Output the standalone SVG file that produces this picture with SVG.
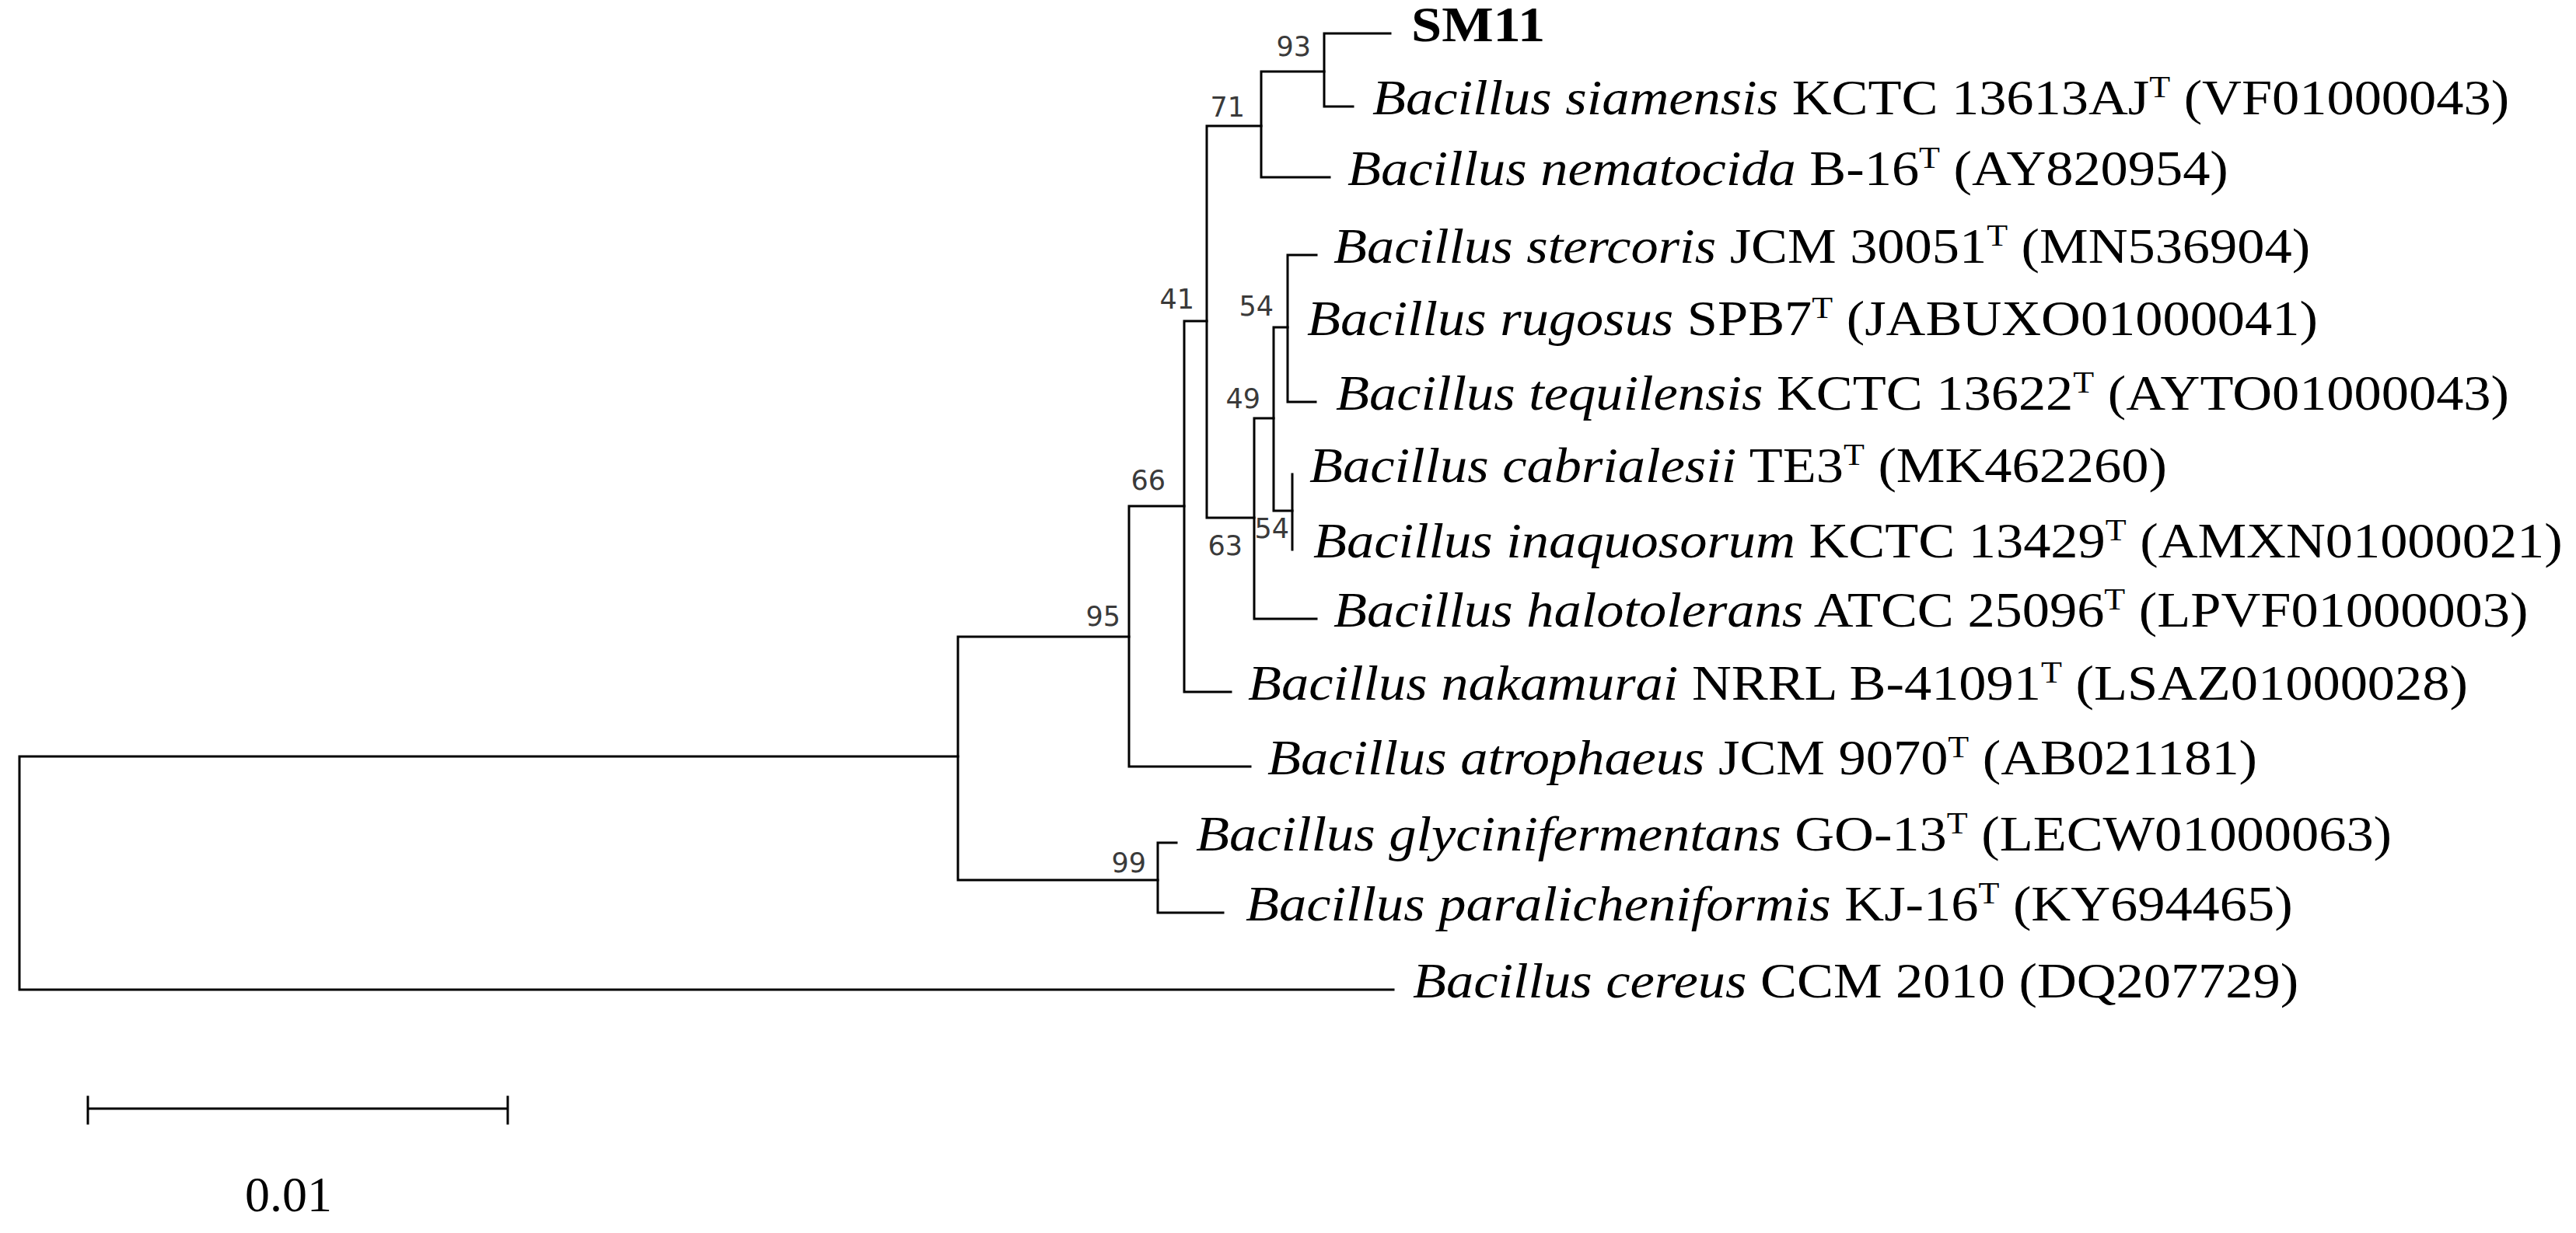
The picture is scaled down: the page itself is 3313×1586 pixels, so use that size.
<svg xmlns="http://www.w3.org/2000/svg" width="3313" height="1586" viewBox="0 0 3313 1586">
<style>
.tx{font-family:"Liberation Serif","Times New Roman",serif;font-size:64px;fill:#000}
.it{font-style:italic}
.bd{font-weight:bold}
.sup{font-size:40px}
.bs{font-family:"DejaVu Sans",Verdana,sans-serif;font-size:35px;fill:#3a3a3a;text-anchor:end}
.br{stroke:#000;stroke-width:3;fill:none;stroke-linecap:square}
</style>
<rect width="3313" height="1586" fill="#fff"/>
<g id="connectors" class="br">
<path d="M25,973V1273M25,973H1232M25,1273H1792"/>
<path d="M1232,819V1132M1232,819H1452M1232,1132H1489"/>
<path d="M1489,1084V1174M1489,1084H1513M1489,1174H1573"/>
<path d="M1452,651V986M1452,986H1608M1452,651H1523"/>
<path d="M1523,413V890M1523,890H1583M1523,413H1552"/>
<path d="M1552,162V666M1552,162H1622M1552,666H1613"/>
<path d="M1622,92V228M1622,92H1703M1622,228H1710"/>
<path d="M1703,43V137M1703,43H1788M1703,137H1740"/>
<path d="M1613,538V796M1613,796H1693M1613,538H1638"/>
<path d="M1638,421V657M1638,421H1656M1638,657H1662"/>
<path d="M1656,328V517M1656,328H1693M1656,517H1692"/>
<path d="M1662,610V707"/>
</g>
<g id="bootstrap">
<text id="bs93" class="bs" x="1686" y="72">93</text>
<text id="bs71" class="bs" x="1601" y="150">71</text>
<text id="bs41" class="bs" x="1536" y="397">41</text>
<text id="bs66" class="bs" x="1499" y="630">66</text>
<text id="bs95" class="bs" x="1441" y="805">95</text>
<text id="bs99" class="bs" x="1474" y="1122">99</text>
<text id="bs54a" class="bs" x="1638" y="406">54</text>
<text id="bs49" class="bs" x="1621" y="525">49</text>
<text id="bs63" class="bs" x="1598" y="714">63</text>
<text id="bs54b" class="bs" x="1658" y="692">54</text>
</g>
<g id="n-SM11" transform="translate(1815,53) scale(1.1,1)"><text class="tx bd">SM11</text></g>
<g id="n-siamensis" transform="translate(1765,147) scale(1.1,1)"><text class="tx"><tspan class="it">Bacillus siamensis</tspan> KCTC 13613AJ<tspan class="sup" dy="-22">T</tspan><tspan dy="22"> (VF01000043)</tspan></text></g>
<g id="n-nematocida" transform="translate(1733,238) scale(1.1,1)"><text class="tx"><tspan class="it">Bacillus nematocida</tspan> B-16<tspan class="sup" dy="-22">T</tspan><tspan dy="22"> (AY820954)</tspan></text></g>
<g id="n-stercoris" transform="translate(1715,338) scale(1.1,1)"><text class="tx"><tspan class="it">Bacillus stercoris</tspan> JCM 30051<tspan class="sup" dy="-22">T</tspan><tspan dy="22"> (MN536904)</tspan></text></g>
<g id="n-rugosus" transform="translate(1681,431) scale(1.1,1)"><text class="tx"><tspan class="it">Bacillus rugosus</tspan> SPB7<tspan class="sup" dy="-22">T</tspan><tspan dy="22"> (JABUXO01000041)</tspan></text></g>
<g id="n-tequilensis" transform="translate(1718,527) scale(1.1,1)"><text class="tx"><tspan class="it">Bacillus tequilensis</tspan> KCTC 13622<tspan class="sup" dy="-22">T</tspan><tspan dy="22"> (AYTO01000043)</tspan></text></g>
<g id="n-cabrialesii" transform="translate(1684,620) scale(1.1,1)"><text class="tx"><tspan class="it">Bacillus cabrialesii</tspan> TE3<tspan class="sup" dy="-22">T</tspan><tspan dy="22"> (MK462260)</tspan></text></g>
<g id="n-inaquosorum" transform="translate(1689,717) scale(1.1,1)"><text class="tx"><tspan class="it">Bacillus inaquosorum</tspan> KCTC 13429<tspan class="sup" dy="-22">T</tspan><tspan dy="22"> (AMXN01000021)</tspan></text></g>
<g id="n-halotolerans" transform="translate(1715,806) scale(1.1,1)"><text class="tx"><tspan class="it">Bacillus halotolerans</tspan> ATCC 25096<tspan class="sup" dy="-22">T</tspan><tspan dy="22"> (LPVF01000003)</tspan></text></g>
<g id="n-nakamurai" transform="translate(1605,900) scale(1.1,1)"><text class="tx"><tspan class="it">Bacillus nakamurai</tspan> NRRL B-41091<tspan class="sup" dy="-22">T</tspan><tspan dy="22"> (LSAZ01000028)</tspan></text></g>
<g id="n-atrophaeus" transform="translate(1630,996) scale(1.1,1)"><text class="tx"><tspan class="it">Bacillus atrophaeus</tspan> JCM 9070<tspan class="sup" dy="-22">T</tspan><tspan dy="22"> (AB021181)</tspan></text></g>
<g id="n-glycinifermentans" transform="translate(1538,1094) scale(1.1,1)"><text class="tx"><tspan class="it">Bacillus glycinifermentans</tspan> GO-13<tspan class="sup" dy="-22">T</tspan><tspan dy="22"> (LECW01000063)</tspan></text></g>
<g id="n-paralicheniformis" transform="translate(1602,1184) scale(1.1,1)"><text class="tx"><tspan class="it">Bacillus paralicheniformis</tspan> KJ-16<tspan class="sup" dy="-22">T</tspan><tspan dy="22"> (KY694465)</tspan></text></g>
<g id="n-cereus" transform="translate(1817,1283) scale(1.1,1)"><text class="tx"><tspan class="it">Bacillus cereus</tspan> CCM 2010 (DQ207729)</text></g>
<g id="scalebar">
<path class="br" d="M113,1426H653M113,1411V1445M653,1411V1445" stroke-linecap="butt"/>
<text class="tx" x="371" y="1558" text-anchor="middle">0.01</text>
</g>
</svg>
